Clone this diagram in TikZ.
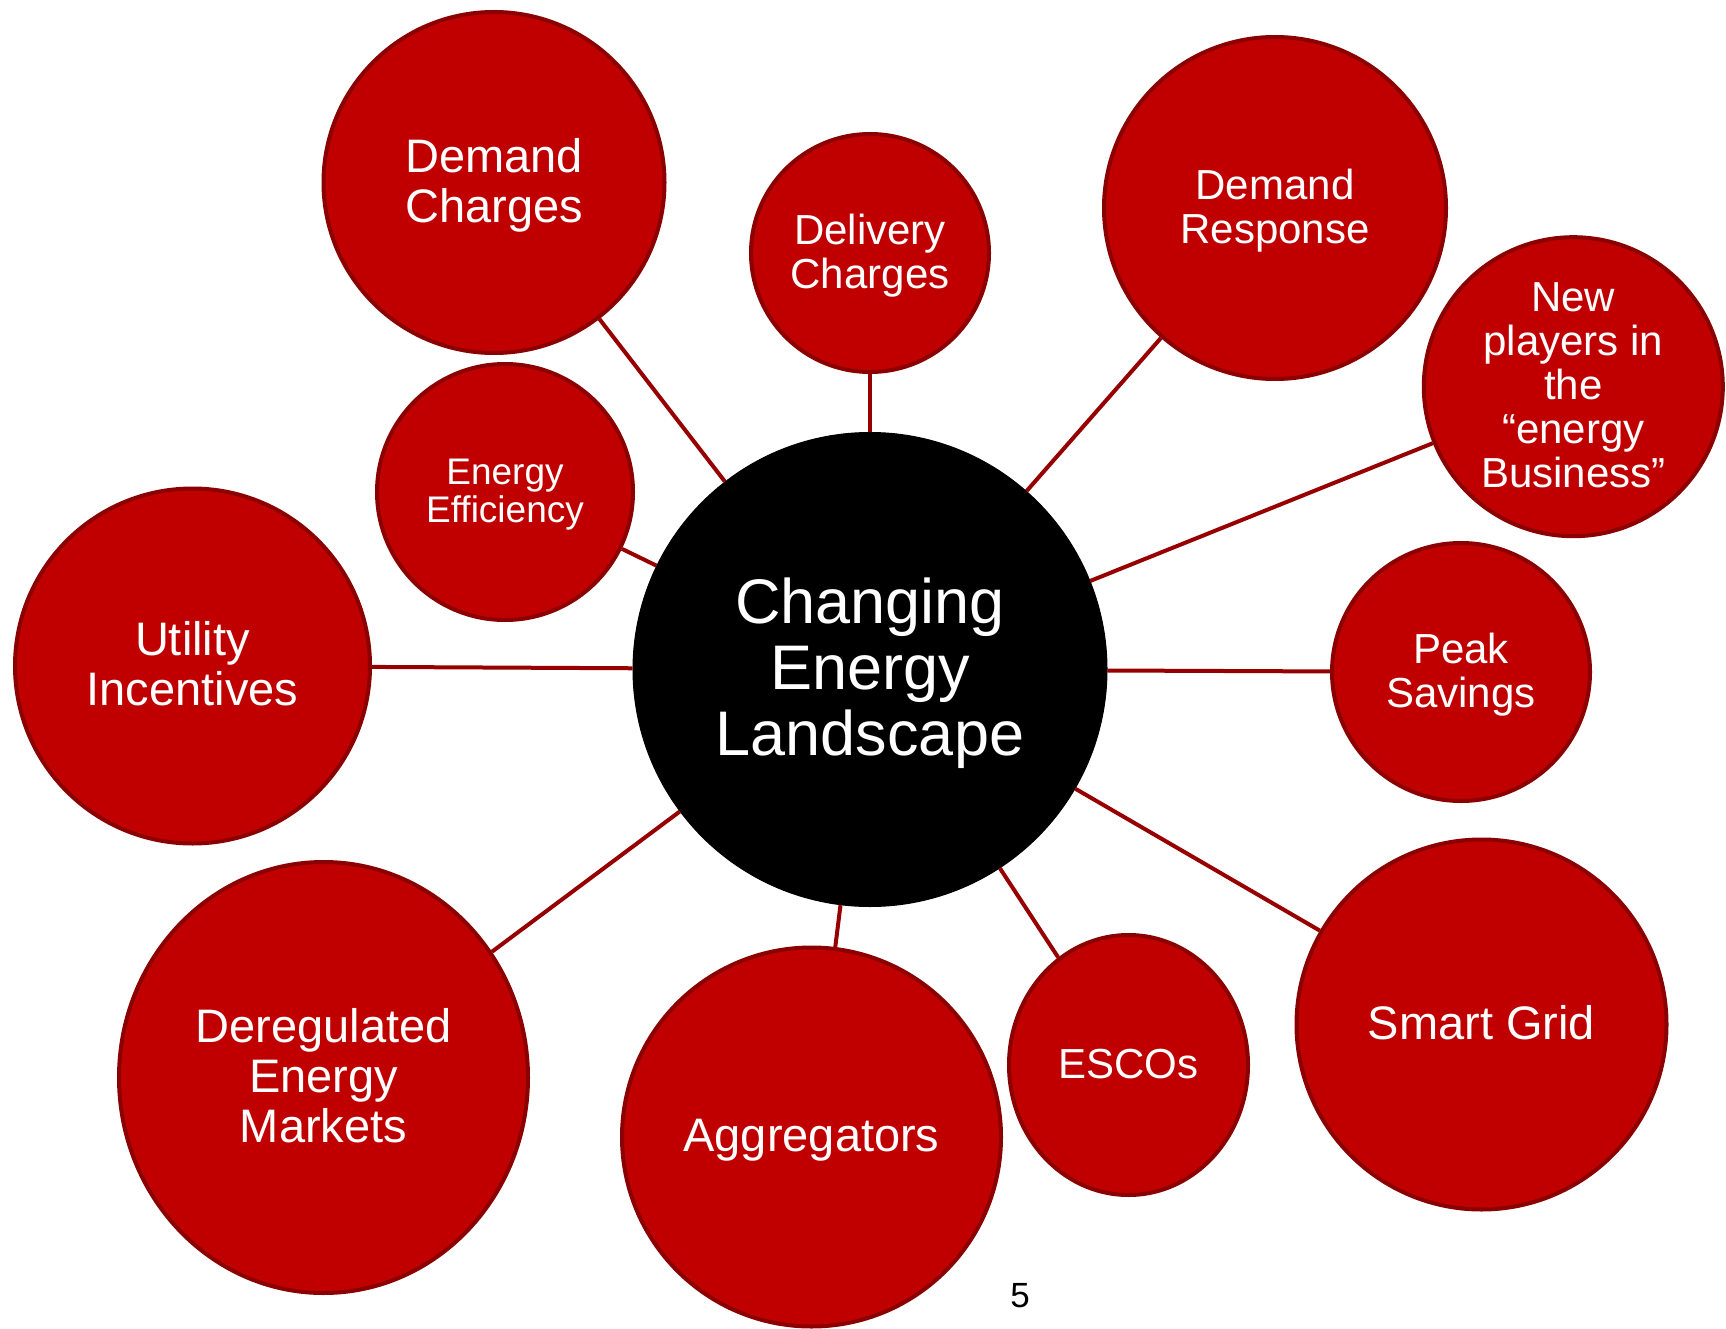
\documentclass[tikz,border=0pt]{standalone}
\usepackage{fontspec}
\setmainfont{Liberation Sans}
\usetikzlibrary{shapes.geometric}
\definecolor{bub}{HTML}{C00000}
\definecolor{bubedge}{HTML}{8B0000}
\definecolor{linkc}{HTML}{960000}
% one text line with fixed height, so that the text block is centred on its caps
\newcommand{\tline}[1]{\smash{#1}\vrule width 0pt height .62em depth 0pt}
\tikzset{
  bubble/.style={circle, fill=bub, draw=bubedge, line width=4pt, text=white, align=center, inner sep=0pt},
  oval/.style={ellipse, fill=bub, draw=bubedge, line width=4pt, text=white, align=center, inner sep=0pt},
  hub/.style={circle, fill=black, draw=black, line width=1pt, text=white, align=center, inner sep=0pt, font={\fontsize{63}{66}\selectfont}},
  big/.style={font={\fontsize{47}{50}\selectfont}},
  mid/.style={font={\fontsize{42}{44}\selectfont}},
  small/.style={font={\fontsize{37}{38}\selectfont}},
  linkline/.style={draw=linkc, line width=4pt}
}
\begin{document}
\begin{tikzpicture}[x=1pt,y=-1pt]
\useasboundingbox (0,0) rectangle (1726,1329);
\node[hub, minimum size=474pt] (c) at (870,669.5) {\tline{Changing}\\\tline{Energy}\\\tline{Landscape}};
\node[bubble, big, minimum size=341pt] (dc) at (494,182.5) {\tline{Demand}\\\tline{Charges}};
\node[bubble, mid, minimum size=238pt] (del) at (870,253) {\tline{Delivery}\\\tline{Charges}};
\node[bubble, mid, minimum size=342pt] (dr) at (1275,208) {\tline{Demand}\\\tline{Response}};
\node[bubble, mid, minimum size=299pt] (np) at (1573.3,386.7) {\tline{New}\\\tline{players in}\\\tline{the}\\\tline{``energy}\\\tline{Business''}};
\node[bubble, small, minimum size=256pt] (ee) at (505,492) {\tline{Energy}\\\tline{Efficiency}};
\node[bubble, big, minimum size=355pt] (ui) at (192.5,666) {\tline{Utility}\\\tline{Incentives}};
\node[bubble, mid, minimum size=258pt] (ps) at (1461,672) {\tline{Peak}\\\tline{Savings}};
\node[oval, big, minimum width=409pt, minimum height=431pt] (dm) at (323.5,1077.5) {\tline{Deregulated}\\\tline{Energy}\\\tline{Markets}};
\node[bubble, big, minimum size=379pt] (ag) at (811.5,1137) {\tline{Aggregators}};
\node[oval, mid, minimum width=239pt, minimum height=260pt] (es) at (1128.5,1065) {\tline{ESCOs}};
\node[bubble, big, minimum size=370pt] (sg) at (1481.5,1024.5) {\tline{Smart Grid}};
\node[font={\fontsize{35}{36}\selectfont}, text=black] (pg) at (1020,1296) {5};
\foreach \b in {dc,del,dr,np,ee,ui,ps,dm,ag,es,sg}
  \draw[linkline] (c) -- (\b);
\end{tikzpicture}
\end{document}
